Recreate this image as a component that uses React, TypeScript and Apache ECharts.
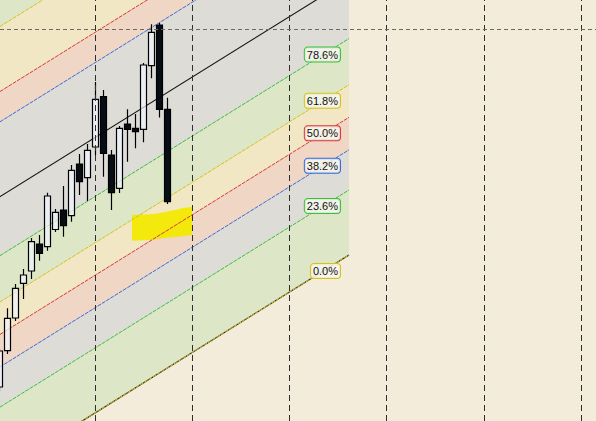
import React, { useEffect, useRef } from "react";
import * as echarts from "echarts";

// ---- Candles (x = bar index, prices) ----
const candleIndex = [-1, 0, 1, 2, 3, 4, 5, 6, 7, 8, 9, 10, 11, 12, 13, 14, 15, 16, 17, 18, 19, 20];
const opens = [103.4, 107.03, 110.3, 113.77, 115.0, 117.7, 117.43, 119.15, 121.1, 120.53, 125.7, 124.33, 127.4, 132.43, 126.6, 123.27, 129.7, 129.27, 129.17, 135.53, 139.6, 131.17];
const closes = [107.0, 110.27, 113.27, 114.6, 117.93, 116.77, 122.5, 120.87, 119.53, 125.07, 123.93, 127.07, 132.17, 126.77, 122.83, 129.27, 129.17, 128.93, 135.6, 138.87, 131.17, 121.93];
const lows = [103.0, 106.7, 110.0, 112.2, 114.2, 116.03, 117.03, 118.9, 118.43, 119.93, 122.6, 122.0, 126.6, 124.43, 121.1, 122.8, 125.93, 127.27, 127.87, 134.27, 130.35, 121.7];
const highs = [107.2, 111.27, 113.7, 115.2, 118.3, 118.6, 122.83, 121.2, 123.5, 125.6, 126.7, 127.7, 133.9, 133.1, 127.1, 129.5, 131.17, 130.7, 135.8, 139.67, 139.8, 132.33];

// ---- Fibonacci channel ----
const channelX = [-2, 42.69];
const channelBase = [94.36, 116.6];
const channelHeight = 27.54;
const levels = [0, 0.236, 0.382, 0.5, 0.618, 0.786, 1, 1.272, 1.382, 1.618, 2.618];
const levelColors = ["#D6C020", "#3DBE3D", "#3A6AD8", "#D93838", "#D6C020", "#3DBE3D", "#151515", "#3A6AD8", "#D93838", "#D6C020", "#3DBE3D"];
const bandColors = ["", "#DDE7C7", "#DDDCD6", "#F0D6C4", "#F1E7C4", "#DDE7C7", "#DDDCD6", "#DDDCD6", "#F0D6C4", "#F1E7C4", "#DDE7C7"];

// ---- Highlight brush mark ----
const highlightX = [15.56, 18.44, 19.69, 20.94, 21.94, 23.06, 23.06, 22.19, 19.69, 17.81, 15.56];
const highlightPrice = [120.6, 120.7, 120.9, 121.1, 121.3, 121.4, 118.6, 118.5, 118.3, 118.1, 118.03];

// ---- Grid / crosshair ----
const gridX = [11.025, 23.1, 35.225, 47.4, 59.6, 71.725];
const crosshairPrice = 139.15;

const X_MIN = -0.9375;
const X_MAX = 73.5625;
const Y_MIN = 100;
const Y_MAX = 142.1;

function levelPrice(end: number, lvl: number) {
  return channelBase[end] + lvl * channelHeight;
}

export default function App() {
  const ref = useRef<HTMLDivElement>(null);
  useEffect(() => {
    document.body.style.margin = "0";
    if (!ref.current) return;
    const chart = echarts.init(ref.current, null, { renderer: "svg" });
    const option: any = {
      animation: false,
      backgroundColor: "#F4ECDB",
      grid: { left: 0, right: 0, top: 0, bottom: 0 },
      xAxis: { type: "value", min: X_MIN, max: X_MAX, show: false, splitLine: { show: false } },
      yAxis: { type: "value", min: Y_MIN, max: Y_MAX, show: false, scale: true, splitLine: { show: false } },
      series: [
        {
          type: "custom",
          z: 1,
          clip: true,
          silent: true,
          data: levels.map((_, i) => [i, 0]),
          renderItem: (params: any, api: any) => {
            const i = api.value(0);
            if (i === 0) return { type: "group", children: [] };
            const lo = levels[i - 1];
            const hi = levels[i];
            const pts = [
              api.coord([channelX[0], levelPrice(0, lo)]),
              api.coord([channelX[1], levelPrice(1, lo)]),
              api.coord([channelX[1], levelPrice(1, hi)]),
              api.coord([channelX[0], levelPrice(0, hi)]),
            ];
            return { type: "polygon", shape: { points: pts }, style: { fill: bandColors[i] } };
          },
        },
        {
          type: "custom",
          z: 2,
          clip: true,
          silent: true,
          data: [[0, 0]],
          renderItem: (params: any, api: any) => {
            const pts = highlightX.map((x, i) => api.coord([x, highlightPrice[i]]));
            return { type: "polygon", shape: { points: pts }, style: { fill: "rgba(242,233,0,0.94)" } };
          },
        },
        {
          type: "line",
          z: 2,
          data: [],
          silent: true,
          markLine: {
            silent: true,
            symbol: "none",
            label: { show: false },
            data: [
              ...gridX.map((x) => ({ xAxis: x, lineStyle: { type: [6, 4], color: "#2E2E2E", width: 1 } })),
              { yAxis: crosshairPrice, lineStyle: { type: [4, 3], color: "#6E6862", width: 1 } },
            ],
          },
        },
        {
          type: "custom",
          z: 3,
          clip: true,
          silent: true,
          data: levels.map((_, i) => [i, 0]),
          renderItem: (params: any, api: any) => {
            const i = api.value(0);
            const lvl = levels[i];
            const a = api.coord([channelX[0], levelPrice(0, lvl)]);
            const b = api.coord([channelX[1], levelPrice(1, lvl)]);
            const children: any[] = [];
            if (lvl === 0) {
              children.push({
                type: "line",
                shape: { x1: a[0], y1: a[1], x2: b[0], y2: b[1] },
                style: { stroke: "#111111", lineWidth: 1.2 },
              });
            }
            children.push({
              type: "line",
              shape: { x1: a[0], y1: a[1], x2: b[0], y2: b[1] },
              style: {
                stroke: levelColors[i],
                lineWidth: lvl === 1 ? 1.1 : 1,
                lineDash: lvl === 1 ? null : [4, 1],
              },
            });
            return { type: "group", children };
          },
        },
        {
          type: "candlestick",
          z: 4,
          barWidth: 6,
          encode: { x: 0, y: [1, 2, 3, 4] },
          data: candleIndex.map((k, i) => [k, opens[i], closes[i], lows[i], highs[i]]),
          itemStyle: {
            color: "rgba(240,244,255,0.7)",
            color0: "rgba(0,6,16,0.97)",
            borderColor: "#000000",
            borderColor0: "#000000",
            borderWidth: 1.2,
          },
        },
        {
          type: "custom",
          z: 5,
          clip: false,
          silent: true,
          data: levels.map((_, i) => [i, 0]),
          renderItem: (params: any, api: any) => {
            const i = api.value(0);
            const lvl = levels[i];
            const b = api.coord([channelX[1], levelPrice(1, lvl)]);
            const y = b[1] + 16;
            if (y - 8 < 0 || lvl >= 1) return { type: "group", children: [] };
            return {
              type: "text",
              x: b[0] - 9,
              y,
              style: {
                text: (lvl * 100).toFixed(1) + "%",
                align: "right",
                verticalAlign: "middle",
                fill: "#111111",
                font: '11px "Liberation Sans"',
                lineHeight: 12,
                padding: [1, 2, 1, 2],
                backgroundColor: "rgba(248,248,240,0.8)",
                borderColor: levelColors[i],
                borderWidth: 1,
                borderRadius: 3,
              },
            };
          },
        },
      ],
    };
    chart.setOption(option);
    return () => chart.dispose();
  }, []);
  return <div ref={ref} style={{ position: "fixed", left: 0, top: 0, width: 596, height: 421 }} />;
}
